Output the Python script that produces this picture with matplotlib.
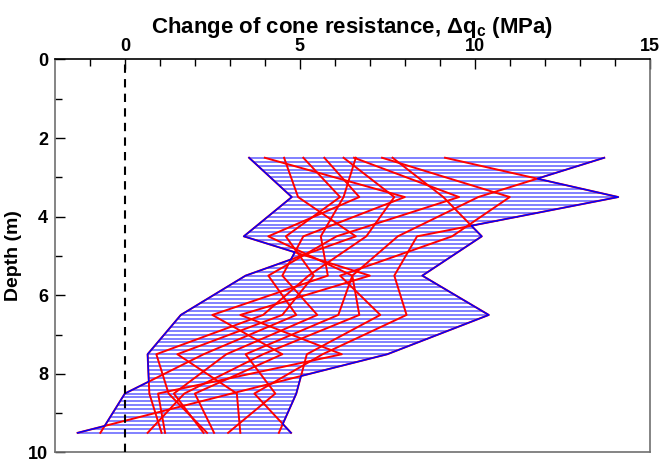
import numpy as np
import matplotlib.pyplot as plt

plt.rcParams["font.family"] = "Liberation Sans"
plt.rcParams["font.weight"] = "bold"
plt.rcParams["mathtext.fontset"] = "custom"
plt.rcParams["mathtext.rm"] = "Liberation Sans:bold"
plt.rcParams["mathtext.it"] = "Liberation Sans:bold"
plt.rcParams["mathtext.bf"] = "Liberation Sans:bold"

# depths of the CPT comparison points (m)
depth = [2.5, 3.5, 4.5, 5.5, 6.5, 7.5, 8.5, 9.5]

# change of cone resistance per sounding (MPa)
cpt01 = [13.7, 10.1, 7.8, 6.5, 6.7, 3.95, 1.7, 0.65]
cpt02 = [9.15, 14.1, 8.35, 7.7, 8.05, 5.65, 3.7, 4.75]
cpt03 = [7.65, 9.1, 10.2, 8.5, 10.4, 7.5, 3.05, -1.35]
cpt04 = [7.35, 11.0, 9.35, 6.15, 7.3, 5.2, 4.9, 4.4]
cpt05 = [6.55, 9.55, 6.05, 4.1, 4.9, 2.25, 0.0, -0.7]
cpt06 = [6.25, 7.7, 6.9, 5.25, 3.95, 0.9, 1.25, 2.35]
cpt07 = [5.7, 6.7, 4.1, 6.5, 6.1, 3.45, 4.3, 2.95]
cpt08 = [5.1, 6.15, 4.6, 5.4, 4.5, 1.5, 3.2, 3.3]
cpt09 = [4.55, 4.95, 6.6, 3.45, 1.6, 0.65, 0.7, 1.05]
cpt10 = [4.0, 8.0, 5.1, 4.5, 5.5, 2.9, 1.4, 2.25]
cpt11 = [3.55, 4.77, 3.4, 7.0, 3.3, 6.2, 0.95, 1.15]
cpt12 = [6.6, 6.25, 5.6, 5.8, 2.5, 4.5, 2.0, 2.55]

profiles = [cpt01, cpt02, cpt03, cpt04, cpt05, cpt06,
            cpt07, cpt08, cpt09, cpt10, cpt11, cpt12]

# envelope of all soundings
z_fine = np.linspace(depth[0], depth[-1], 701)
curves = np.array([np.interp(z_fine, depth, p) for p in profiles])
env_lo = curves.min(axis=0)
env_hi = curves.max(axis=0)

z_hatch = np.round(np.arange(depth[0], depth[-1] + 0.001, 0.1), 2)
hatch = np.array([np.interp(z_hatch, depth, p) for p in profiles])

fig = plt.figure(figsize=(6.61, 4.63), dpi=100)
ax = fig.add_axes([0.083, 0.0227, 0.9, 0.8488])

ax.hlines(z_hatch, hatch.min(axis=0), hatch.max(axis=0),
          color="#8080ff", lw=1.4, zorder=1)
for p in profiles:
    ax.plot(p, depth, color="red", lw=1.4, zorder=2)
ax.plot(env_lo, z_fine, color="blue", lw=1.1, zorder=3)
ax.plot(env_hi, z_fine, color="blue", lw=1.1, zorder=3)
ax.axvline(0, color="black", lw=1.5, ls=(0, (4, 3)), zorder=4)

ax.set_xlim(-2, 15)
ax.set_ylim(10, 0)
ax.set_xticks([0, 5, 10, 15])
ax.set_xticks(np.arange(-1, 15), minor=True)
ax.set_yticks([0, 2, 4, 6, 8, 10])
ax.set_yticks([1, 3, 5, 7, 9], minor=True)

ax.xaxis.set_ticks_position("top")
ax.xaxis.set_label_position("top")
ax.tick_params(axis="x", which="both", direction="in", top=True,
               bottom=False, labelsize=13, pad=3)
ax.tick_params(axis="y", which="both", direction="in", left=True,
               right=False, labelsize=13, pad=5)
ax.tick_params(which="major", length=7, width=1)
ax.tick_params(which="minor", length=5, width=1)

for side in ["left", "right", "bottom"]:
    ax.spines[side].set_color("#707070")
ax.spines["top"].set_color("black")
for s in ax.spines.values():
    s.set_linewidth(1.2)

ax.set_xlabel("Change of cone resistance, \u0394q$_{c}$ (MPa)",
              fontsize=16, fontweight="bold", labelpad=4)
ax.set_ylabel("Depth (m)", fontsize=14, fontweight="bold", labelpad=4)

fig.savefig("out.png", dpi=100)
